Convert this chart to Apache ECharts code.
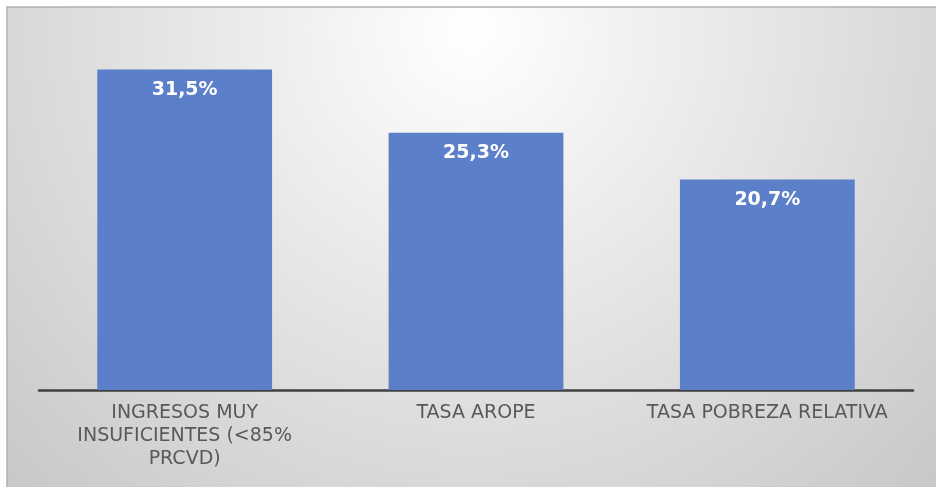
<!DOCTYPE html>
<html>
<head>
<meta charset="utf-8">
<script src="https://cdn.jsdelivr.net/npm/echarts@6/dist/echarts.min.js"></script>
<style>html,body{margin:0;padding:0;background:#fff}#c{width:936px;height:487px}</style>
</head>
<body>
<div id="c"></div>
<script>
const categories = ['INGRESOS MUY\nINSUFICIENTES (<85%\nPRCVD)', 'TASA AROPE', 'TASA POBREZA RELATIVA'];
const values = [31.5, 25.3, 20.7];
const valueLabels = ['31,5%', '25,3%', '20,7%'];

const chart = echarts.init(document.getElementById('c'), null, {renderer: 'canvas'});
chart.setOption({
  backgroundColor: '#ffffff',
  animation: false,
  graphic: [
    {type: 'rect', z: -10, silent: true, shape: {x: 7, y: 7, width: 929, height: 480},
     style: {fill: {type: 'radial', x: 0.5, y: 0.05, r: 1.35, colorStops: [
       {offset: 0, color: '#ffffff'}, {offset: 0.45, color: '#e6e6e6'}, {offset: 1, color: '#c8c8c8'}]}}},
    {type: 'line', z: -9, silent: true, shape: {x1: 6.5, y1: 7, x2: 936, y2: 7}, style: {stroke: '#b0b0b0', lineWidth: 1.5}},
    {type: 'line', z: -9, silent: true, shape: {x1: 7, y1: 6.5, x2: 7, y2: 487}, style: {stroke: '#b0b0b0', lineWidth: 1.5}}
  ],
  grid: {left: 39, right: 23, top: 34, bottom: 97, containLabel: false},
  xAxis: {
    type: 'category', data: categories,
    axisLine: {lineStyle: {color: '#404040', width: 2.5}},
    axisTick: {show: false},
    axisLabel: {color: '#595959', fontSize: 19, lineHeight: 23, margin: 12, interval: 0,
      fontFamily: 'DejaVu Sans, sans-serif'}
  },
  yAxis: {type: 'value', min: 0, max: 35, show: false, splitLine: {show: false}},
  series: [{
    type: 'bar', data: values, barCategoryGap: '40%',
    itemStyle: {color: '#5b7fc8'},
    label: {show: true, position: 'insideTop', distance: 11, color: '#ffffff', fontWeight: 'bold',
      fontSize: 19, fontFamily: 'DejaVu Sans, sans-serif',
      formatter: p => valueLabels[p.dataIndex]}
  }]
});
</script>
</body>
</html>
